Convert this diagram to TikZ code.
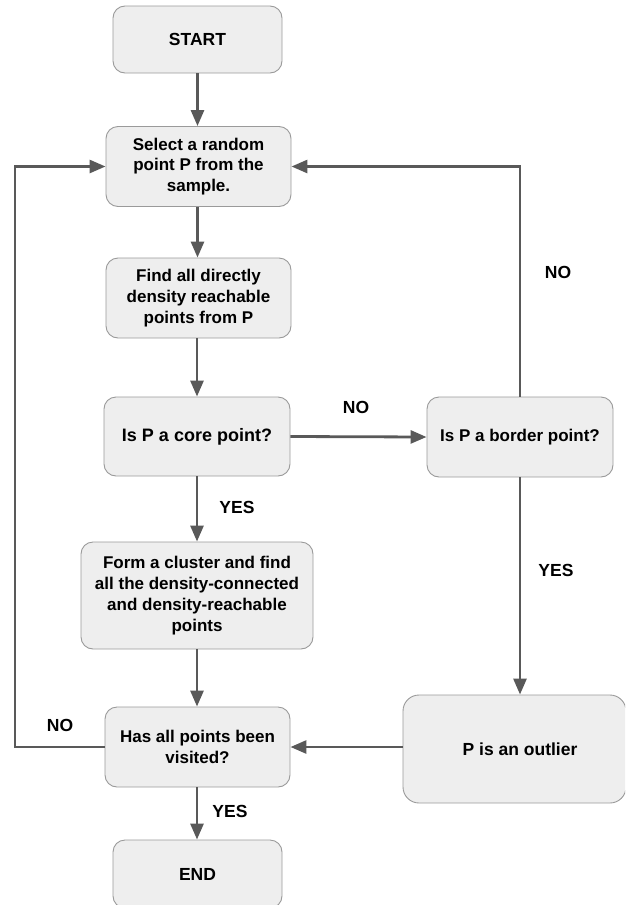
\documentclass[tikz,border=0pt]{standalone}
\usepackage{fontspec}
\setmainfont{Liberation Sans}
\usetikzlibrary{arrows.meta}
\definecolor{boxfill}{HTML}{EEEEEE}
\definecolor{boxline}{HTML}{9A9A9A}
\definecolor{arrowcol}{HTML}{595959}
\begin{document}
\begin{tikzpicture}[x=1pt,y=-1pt,
  box/.style={draw=boxline, line width=0.9pt, fill=boxfill, rounded corners=12pt,
    align=center, inner sep=0pt, font=\fontsize{17}{20.8}\selectfont\bfseries},
  bigtext/.style={font=\fontsize{17.5}{21}\selectfont\bfseries},
  conn/.style={draw=arrowcol, line width=2.8pt, -{Triangle[length=16pt,width=13pt]}},
  lbl/.style={font=\fontsize{17.5}{21}\selectfont\bfseries, inner sep=0pt}]
\useasboundingbox (0,0) rectangle (625,905);
\clip (0,0) rectangle (625,905);

\node[box, bigtext, minimum width=169pt, minimum height=67pt] (start) at (197.5,39.5) {START};
\node[box, minimum width=185pt, minimum height=80pt] (select) at (198.5,166.5) {Select a random\\point P from the\\sample.};
\node[box, minimum width=185pt, minimum height=80pt] (find) at (198.5,298) {Find all directly\\density reachable\\points from P};
\node[box, font=\fontsize{18}{21}\selectfont\bfseries, minimum width=186pt, minimum height=79pt] (core) at (197,436.5) {Is P a core point?};
\node[box, minimum width=186pt, minimum height=80pt] (border) at (520,437) {Is P a border point?};
\node[box, minimum width=232pt, minimum height=107pt] (form) at (197,595.5) {Form a cluster and find\\all the density-connected\\and density-reachable\\points};
\node[box, minimum width=185pt, minimum height=80pt] (has) at (197.5,747) {Has all points been\\visited?};
\node[box, bigtext, minimum width=223pt, minimum height=108pt, rounded corners=16pt] (outlier) at (514.5,749) {\hspace*{11pt}P is an outlier};
\node[box, bigtext, minimum width=169pt, minimum height=68pt] (end) at (197.5,874) {END};

\coordinate (rtop) at (520,166.5);
\coordinate (ltop) at (15,166.5);
\coordinate (lbot) at (15,747);

\draw[conn] (start.south) -- (select.north -| start.south);
\draw[conn] (select.south -| start.south) -- (find.north -| start.south);
\draw[conn] (find.south -| core.south) -- (core.north);
\draw[conn] (core.south) -- (form.north);
\draw[conn] (form.south) -- (has.north -| form.south);
\draw[conn] (has.south -| form.south) -- (end.north -| form.south);
\draw[conn] (core.east) -- (border.west);
\draw[conn] (border.north) -- (rtop) -- (select.east);
\draw[conn] (border.south) -- (border.south |- outlier.north);
\draw[conn] (outlier.west |- has.east) -- (has.east);
\draw[conn] (has.west) -- (lbot) -- (ltop) -- (select.west);

\node[lbl] (no1) at (356,407) {NO};
\node[lbl] (no2) at (558,272) {NO};
\node[lbl] (yes1) at (237,507) {YES};
\node[lbl] (yes2) at (556,570) {YES};
\node[lbl] (no3) at (60,725) {NO};
\node[lbl] (yes3) at (230,811) {YES};
\end{tikzpicture}
\end{document}
